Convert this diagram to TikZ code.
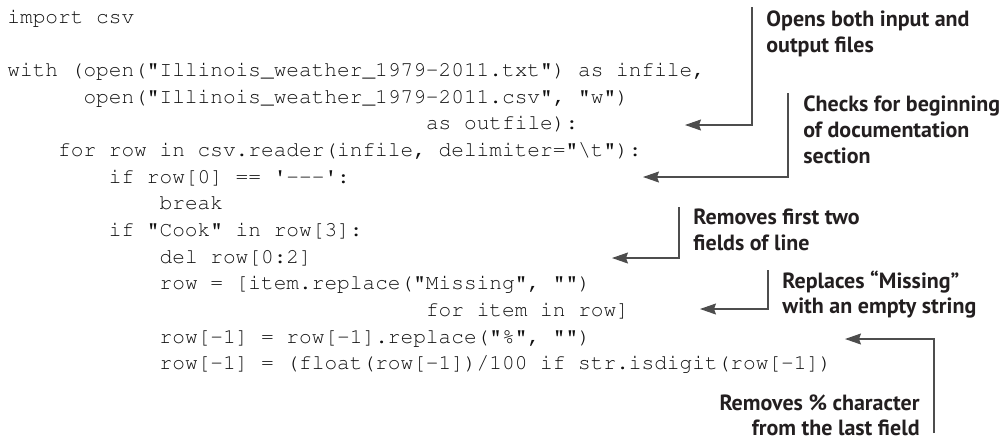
\documentclass[tikz,border=0pt]{standalone}
\usepackage{fontspec}
\setmonofont{Liberation Mono}
\newfontfamily\labfont{PT Sans}[Ligatures=TeX]
\IfFileExists{t1pcr.fd}{\newcommand\codefont{\fontencoding{T1}\fontfamily{pcr}\selectfont}}{\newcommand\codefont{\ttfamily}}
\usetikzlibrary{arrows.meta}
\definecolor{codecol}{HTML}{111111}
\definecolor{labcol}{HTML}{231F20}
\definecolor{linecol}{HTML}{4D4D4D}
\begin{document}
\begin{tikzpicture}[x=0.5pt,y=-0.5pt,
  code/.style={anchor=base west,inner sep=0pt,font=\codefont\fontsize{10.57}{12}\selectfont,text=codecol},
  lab/.style={anchor=base west,inner sep=0pt,font=\labfont\bfseries\fontsize{11}{13}\selectfont,text=labcol},
  labr/.style={lab,anchor=base east},
  conn/.style={draw=linecol,line width=0.55pt,-{Stealth[length=8pt,width=5.5pt,inset=1pt]}}]
\useasboundingbox (0,0) rectangle (1001,441);
\def\cw{12.686}
\def\lp{26.67}
% code lines
\node[code] (c0)  at ({7+0*\cw},{23+0*\lp})  {import csv};
\node[code] (c2)  at ({7+0*\cw},{23+2*\lp})  {with (open("Illinois\_weather\_1979-2011.txt") as infile,};
\node[code] (c3)  at ({7+6*\cw},{23+3*\lp})  {open("Illinois\_weather\_1979-2011.csv", "w")};
\node[code] (c4)  at ({7+33*\cw},{23+4*\lp}) {as outfile):};
\node[code] (c5)  at ({7+4*\cw},{23+5*\lp})  {for row in csv.reader(infile, delimiter="\textbackslash t"):};
\node[code] (c6)  at ({7+8*\cw},{23+6*\lp})  {if row[0] == \textquotesingle-{}-{}-\textquotesingle:};
\node[code] (c7)  at ({7+12*\cw},{23+7*\lp}) {break};
\node[code] (c8)  at ({7+8*\cw},{23+8*\lp})  {if "Cook" in row[3]:};
\node[code] (c9)  at ({7+12*\cw},{23+9*\lp}) {del row[0:2]};
\node[code] (c10) at ({7+12*\cw},{23+10*\lp}) {row = [item.replace("Missing", "")};
\node[code] (c11) at ({7+33*\cw},{23+11*\lp}) {for item in row]};
\node[code] (c12) at ({7+12*\cw},{23+12*\lp}) {row[-1] = row[-1].replace("\%", "")};
\node[code] (c13) at ({7+12*\cw},{23+13*\lp}) {row[-1] = (float(row[-1])/100 if str.isdigit(row[-1])};
% labels
\node[lab] (l1a) at (766,26) {Opens both input and};
\node[lab] (l1b) at (766,52.5) {output files};
\node[lab] (l2a) at (803,111) {Checks for beginning};
\node[lab] (l2b) at (803,137) {of documentation};
\node[lab] (l2c) at (803,163) {section};
\node[lab] (l3a) at (693,224) {Removes first two};
\node[lab] (l3b) at (693,250) {fields of line};
\node[lab] (l4a) at (782,288) {Replaces “Missing”};
\node[lab] (l4b) at (782,313) {with an empty string};
\node[labr] (l5a) at (920,410) {Removes \% character};
\node[labr] (l5b) at (920,435) {from the last field};
% connectors
\coordinate (a1s) at (752,7);   \coordinate (a1e) at (685,125);
\coordinate (a2s) at (788,93);  \coordinate (a2e) at (643,177);
\coordinate (a3s) at (679,207); \coordinate (a3e) at (612,258);
\coordinate (a4s) at (768,270); \coordinate (a4e) at (700,309);
\coordinate (a5s) at (934,433); \coordinate (a5e) at (845,339);
\draw[conn] (a1s) |- (a1e);
\draw[conn] (a2s) |- (a2e);
\draw[conn] (a3s) |- (a3e);
\draw[conn] (a4s) |- (a4e);
\draw[conn] (a5s) |- (a5e);
\end{tikzpicture}
\end{document}
